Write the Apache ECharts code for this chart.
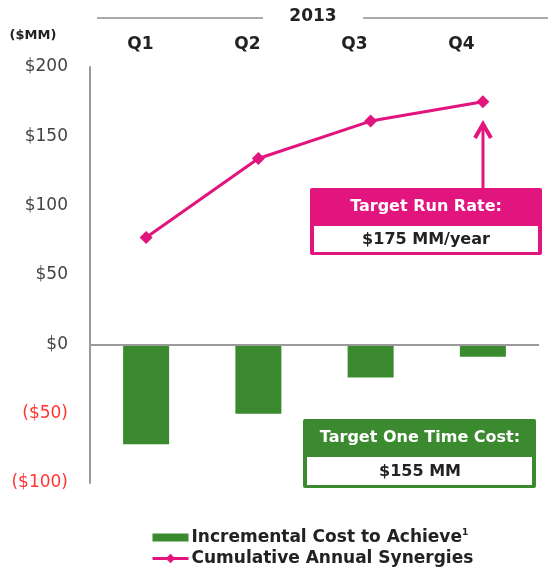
<!DOCTYPE html>
<html>
<head>
<meta charset="utf-8">
<script src="https://cdn.jsdelivr.net/npm/echarts@6/dist/echarts.min.js"></script>
<style>
  html, body { margin: 0; padding: 0; background: #fff; }
  #chart { width: 548px; height: 582px; }
</style>
</head>
<body>
<div id="chart"></div>
<script>
// data
var quarters = ["Q1", "Q2", "Q3", "Q4"];
var costToAchieve = [-72, -50, -24, -9];
var annualSynergies = [77, 134, 161, 175];
var yTicks = { min: -100, max: 200, step: 50 };

var magenta = "#e2157f";
var green = "#3b8a2f";
var font = "'DejaVu Sans', Verdana, sans-serif";

var chart = echarts.init(document.getElementById("chart"));

function yLabel(v) {
  return v < 0 ? "($" + (-v) + ")" : "$" + v;
}

var option = {
  animation: false,
  textStyle: { fontFamily: font },
  grid: [
    { left: 90, right: 9, top: 67, bottom: 99 },
    // the quarter header sits a little narrower than the plot
    { left: 87, right: 33, top: 67, bottom: 99 }
  ],
  legend: {
    orient: "vertical",
    left: 146,
    top: 523,
    itemWidth: 36,
    itemHeight: 12,
    itemGap: 4,
    selectedMode: false,
    symbolKeepAspect: true,
    textStyle: {
      fontFamily: font,
      fontSize: 17,
      fontWeight: "bold",
      color: "#222",
      padding: [0, 0, 0, -2],
      rich: {
        sup: { fontFamily: font, fontSize: 9, fontWeight: "bold", color: "#222", padding: [0, 0, 10, 0] }
      }
    },
    formatter: function (name) {
      return name === "Incremental Cost to Achieve" ? name + "{sup|1}" : name;
    },
    data: [
      { name: "Incremental Cost to Achieve", icon: "path://M0,0h36v8h-36z" },
      { name: "Cumulative Annual Synergies", lineStyle: { width: 3 } }
    ]
  },
  xAxis: [
    {
      type: "category",
      gridIndex: 0,
      data: quarters,
      axisLine: { show: false },
      axisTick: { show: false },
      axisLabel: { show: false }
    },
    {
      type: "category",
      gridIndex: 1,
      position: "top",
      data: quarters,
      axisLine: { show: false },
      axisTick: { show: false },
      axisLabel: {
        margin: 14,
        fontFamily: font,
        fontSize: 17,
        fontWeight: "bold",
        color: "#222"
      }
    }
  ],
  yAxis: [
    {
      type: "value",
      gridIndex: 0,
      min: yTicks.min,
      max: yTicks.max,
      interval: yTicks.step,
      axisLine: { show: true, lineStyle: { color: "#9a9a9a", width: 2 } },
      axisTick: { show: false },
      splitLine: { show: false },
      axisLabel: {
        margin: 22,
        fontFamily: font,
        fontSize: 17,
        formatter: yLabel,
        color: function (v) {
          return Number(v) < 0 ? "#ff3535" : "#444";
        }
      }
    },
    {
      type: "value",
      gridIndex: 1,
      show: false
    }
  ],
  series: [
    {
      name: "Incremental Cost to Achieve",
      type: "bar",
      data: costToAchieve,
      barWidth: 46,
      itemStyle: { color: green },
      markLine: {
        silent: true,
        symbol: "none",
        label: { show: false },
        lineStyle: { color: "#9a9a9a", width: 2, type: "solid" },
        data: [{ yAxis: 0 }]
      }
    },
    {
      name: "Cumulative Annual Synergies",
      type: "line",
      data: annualSynergies,
      symbol: "diamond",
      symbolSize: 13,
      z: 5,
      lineStyle: { color: magenta, width: 3 },
      itemStyle: { color: magenta }
    }
  ]
};

chart.setOption(option);

// annotations: header, unit, callout boxes and arrow
var tip = chart.convertToPixel({ seriesIndex: 1 }, [3, annualSynergies[3]]);
var ax = Math.round(tip[0]);
var ay = Math.round(tip[1]) + 22;

chart.setOption({
  graphic: [
    { type: "line", shape: { x1: 97, y1: 18, x2: 263, y2: 18 }, style: { stroke: "#aaa", lineWidth: 2 } },
    { type: "line", shape: { x1: 363, y1: 18, x2: 548, y2: 18 }, style: { stroke: "#aaa", lineWidth: 2 } },
    { type: "text", x: 313, y: 17, style: { text: "2013", font: "bold 17px " + font, fill: "#222", align: "center", verticalAlign: "middle" } },
    { type: "text", x: 33, y: 36, style: { text: "($MM)", font: "bold 13px " + font, fill: "#222", align: "center", verticalAlign: "middle" } },

    // run rate arrow
    { type: "line", shape: { x1: ax, y1: 189, x2: ax, y2: ay + 1 }, style: { stroke: magenta, lineWidth: 3 } },
    { type: "polyline", shape: { points: [[ax - 8, ay + 14], [ax, ay], [ax + 8, ay + 14]] }, style: { stroke: magenta, lineWidth: 4, fill: null } },

    // run rate box
    { type: "rect", shape: { x: 310, y: 188, width: 232, height: 67, r: 2 }, style: { fill: magenta } },
    { type: "rect", shape: { x: 314, y: 226, width: 224, height: 26 }, style: { fill: "#fff" } },
    { type: "text", x: 426, y: 207, style: { text: "Target Run Rate:", font: "bold 16px " + font, fill: "#fff", align: "center", verticalAlign: "middle" } },
    { type: "text", x: 426, y: 240, style: { text: "$175 MM/year", font: "bold 16px " + font, fill: "#222", align: "center", verticalAlign: "middle" } },

    // one time cost box
    { type: "rect", shape: { x: 303, y: 419, width: 233, height: 69, r: 2 }, style: { fill: green } },
    { type: "rect", shape: { x: 307, y: 457, width: 225, height: 28 }, style: { fill: "#fff" } },
    { type: "text", x: 420, y: 438, style: { text: "Target One Time Cost:", font: "bold 16px " + font, fill: "#fff", align: "center", verticalAlign: "middle" } },
    { type: "text", x: 420, y: 472, style: { text: "$155 MM", font: "bold 16px " + font, fill: "#222", align: "center", verticalAlign: "middle" } }
  ]
});
</script>
</body>
</html>
